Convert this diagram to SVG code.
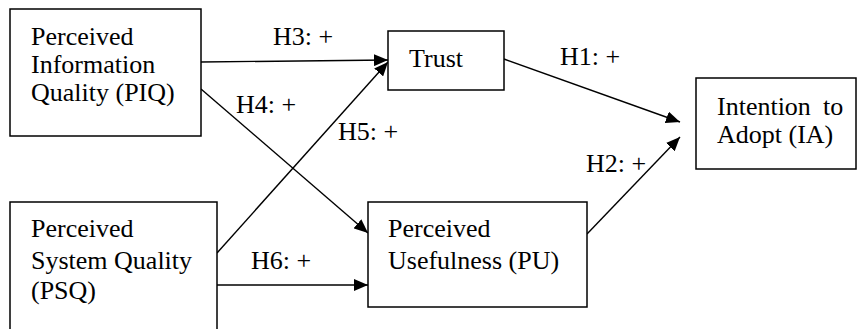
<svg xmlns="http://www.w3.org/2000/svg" width="857" height="329" viewBox="0 0 857 329">
<style>
.box{fill:#fff;stroke:#000;stroke-width:1.5}
.t{font-family:"Liberation Serif","Times New Roman",serif;font-size:26px;fill:#000}
.c{fill:none;stroke:#000;stroke-width:1.4}
</style>
<defs>
<marker id="a" markerUnits="userSpaceOnUse" markerWidth="14" markerHeight="12" refX="14" refY="6" orient="auto">
<path d="M0,0 L14,6 L0,12 Z" fill="#000"/>
</marker>
</defs>
<g id="connectors">
<line class="c" x1="201" y1="62" x2="388" y2="60" marker-end="url(#a)"/>
<line class="c" x1="201" y1="89" x2="368" y2="233" marker-end="url(#a)"/>
<line class="c" x1="217" y1="253" x2="388" y2="62" marker-end="url(#a)"/>
<line class="c" x1="504" y1="59" x2="680" y2="122" marker-end="url(#a)"/>
<line class="c" x1="587" y1="234" x2="680" y2="137" marker-end="url(#a)"/>
<line class="c" x1="217" y1="285" x2="368" y2="285" marker-end="url(#a)"/>
<text class="t" x="273" y="45">H3: +</text>
<text class="t" x="236" y="113">H4: +</text>
<text class="t" x="338" y="140">H5: +</text>
<text class="t" x="560" y="65">H1: +</text>
<text class="t" x="586" y="172">H2: +</text>
<text class="t" x="251" y="269">H6: +</text>
</g>
<g id="PIQ">
<rect class="box" x="10" y="9" width="191" height="127"/>
<text class="t" x="31" y="45">Perceived</text>
<text class="t" x="31" y="73">Information</text>
<text class="t" x="31" y="101">Quality (PIQ)</text>
</g>
<g id="Trust">
<rect class="box" x="388" y="31" width="116" height="59"/>
<text class="t" x="409" y="67">Trust</text>
</g>
<g id="IA">
<rect class="box" x="696" y="78" width="160" height="91"/>
<text class="t" x="717" y="115">Intention <tspan x="823">to</tspan></text>
<text class="t" x="717" y="143">Adopt (IA)</text>
</g>
<g id="PSQ">
<rect class="box" x="10" y="202" width="207" height="140"/>
<text class="t" x="31" y="237">Perceived</text>
<text class="t" x="31" y="269">System Quality</text>
<text class="t" x="31" y="299">(PSQ)</text>
</g>
<g id="PU">
<rect class="box" x="368" y="202" width="219" height="105"/>
<text class="t" x="388" y="237">Perceived</text>
<text class="t" x="388" y="269">Usefulness (PU)</text>
</g>
</svg>
